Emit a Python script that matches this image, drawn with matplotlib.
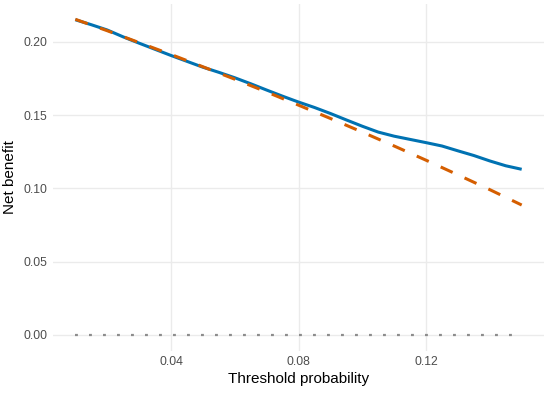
import numpy as np
import matplotlib
matplotlib.use("Agg")
import matplotlib.pyplot as plt

# threshold probabilities and net benefit values
thr_model = [0.010, 0.015, 0.020, 0.025, 0.030, 0.035, 0.040, 0.045, 0.050, 0.055,
             0.060, 0.065, 0.070, 0.075, 0.080, 0.085, 0.090, 0.095, 0.100, 0.105,
             0.110, 0.115, 0.120, 0.125, 0.130, 0.135, 0.140, 0.145, 0.150]
nb_model = [0.2152, 0.2118, 0.2082, 0.2035, 0.1992, 0.1950, 0.1908, 0.1868, 0.1828, 0.1793,
            0.1756, 0.1715, 0.1672, 0.1630, 0.1590, 0.1553, 0.1512, 0.1468, 0.1425, 0.1385,
            0.1357, 0.1335, 0.1313, 0.1290, 0.1257, 0.1225, 0.1188, 0.1155, 0.1131]

thr_all = [0.01, 0.02, 0.03, 0.04, 0.05, 0.06, 0.07, 0.08,
           0.09, 0.10, 0.11, 0.12, 0.13, 0.14, 0.15]
nb_all = [0.2155, 0.2077, 0.1996, 0.1915, 0.1831, 0.1746, 0.1659, 0.1569,
          0.1478, 0.1385, 0.1290, 0.1193, 0.1093, 0.0992, 0.0887]

thr_none = [0.01, 0.15]
nb_none = [0.0, 0.0]

xticks = [0.04, 0.08, 0.12]
yticks = [0.00, 0.05, 0.10, 0.15, 0.20]

plt.rcParams['font.family'] = ['Liberation Sans', 'DejaVu Sans']

fig = plt.figure(figsize=(5.5, 3.93), dpi=100)
ax = fig.add_axes([0.0964, 0.1076, 0.8927, 0.8817])

ax.plot(thr_none, nb_none, color='#8c8c8c', lw=1.6, dashes=(1.3, 5.0),
        solid_capstyle='butt', dash_capstyle='butt')
ax.plot(thr_model, nb_model, color='#0072B2', lw=2.2, solid_capstyle='butt')
ax.plot(thr_all, nb_all, color='#D55E00', lw=2.2, dashes=(4.3, 4.3),
        dash_capstyle='butt')

ax.set_xlim(0.003, 0.157)
ax.set_ylim(-0.01075, 0.2258)
ax.set_xticks(xticks)
ax.set_xticklabels([f"{v:.2f}" for v in xticks])
ax.set_yticks(yticks)
ax.set_yticklabels([f"{v:.2f}" for v in yticks])

ax.grid(True, color='#EBEBEB', lw=1.0)
ax.set_axisbelow(True)
for s in ax.spines.values():
    s.set_visible(False)
ax.tick_params(length=0, labelsize=8.8, labelcolor='#4D4D4D', pad=4)

ax.set_xlabel('Threshold probability', fontsize=11, labelpad=3)
ax.set_ylabel('Net benefit', fontsize=11, labelpad=5)

fig.savefig('out.png', dpi=100)
